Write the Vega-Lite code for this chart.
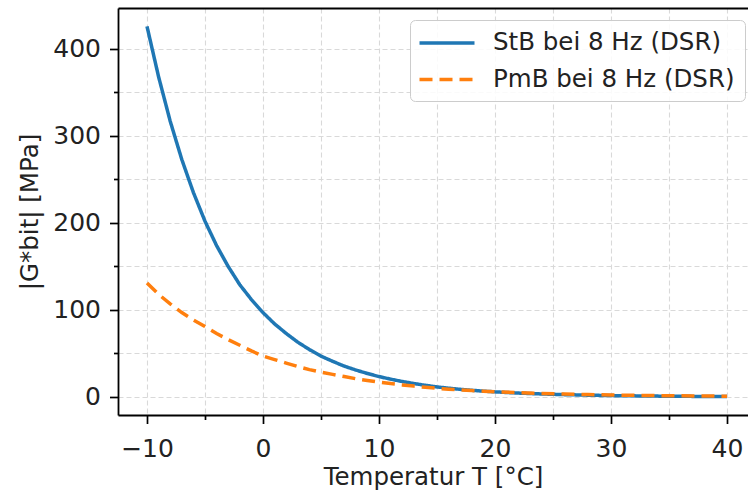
{
  "$schema": "https://vega.github.io/schema/vega-lite/v6.json",
  "width": 630,
  "height": 407,
  "autosize": {"type": "none"},
  "padding": {"left": 118, "top": 8, "right": 0, "bottom": 78},
  "background": "white",
  "config": {
    "view": {"stroke": null},
    "font": "DejaVu Sans",
    "axis": {
      "labelFont": "DejaVu Sans",
      "titleFont": "DejaVu Sans",
      "labelFontSize": 25,
      "titleFontSize": 24.5,
      "labelColor": "#222",
      "titleColor": "#222",
      "titleFontWeight": "normal",
      "domainColor": "#000",
      "domainWidth": 1.8,
      "tickColor": "#000",
      "tickWidth": 1.7,
      "gridColor": "#d9d9d9",
      "gridDash": [5, 3],
      "gridWidth": 1.1
    },
    "legend": {
      "labelFont": "DejaVu Sans",
      "labelFontSize": 24.5,
      "labelColor": "#222",
      "labelLimit": 400
    }
  },
  "data": {
    "values": [
      {"T": -10, "G": 426, "s": "StB bei 8 Hz (DSR)"},
      {"T": -9, "G": 368, "s": "StB bei 8 Hz (DSR)"},
      {"T": -8, "G": 317, "s": "StB bei 8 Hz (DSR)"},
      {"T": -7, "G": 273, "s": "StB bei 8 Hz (DSR)"},
      {"T": -6, "G": 235, "s": "StB bei 8 Hz (DSR)"},
      {"T": -5, "G": 202, "s": "StB bei 8 Hz (DSR)"},
      {"T": -4, "G": 174, "s": "StB bei 8 Hz (DSR)"},
      {"T": -3, "G": 150, "s": "StB bei 8 Hz (DSR)"},
      {"T": -2, "G": 129, "s": "StB bei 8 Hz (DSR)"},
      {"T": -1, "G": 112, "s": "StB bei 8 Hz (DSR)"},
      {"T": 0, "G": 97, "s": "StB bei 8 Hz (DSR)"},
      {"T": 1, "G": 84, "s": "StB bei 8 Hz (DSR)"},
      {"T": 2, "G": 73, "s": "StB bei 8 Hz (DSR)"},
      {"T": 3, "G": 63, "s": "StB bei 8 Hz (DSR)"},
      {"T": 4, "G": 54.5, "s": "StB bei 8 Hz (DSR)"},
      {"T": 5, "G": 47, "s": "StB bei 8 Hz (DSR)"},
      {"T": 6, "G": 41, "s": "StB bei 8 Hz (DSR)"},
      {"T": 7, "G": 35.5, "s": "StB bei 8 Hz (DSR)"},
      {"T": 8, "G": 31, "s": "StB bei 8 Hz (DSR)"},
      {"T": 9, "G": 27, "s": "StB bei 8 Hz (DSR)"},
      {"T": 10, "G": 23.5, "s": "StB bei 8 Hz (DSR)"},
      {"T": 11, "G": 20.5, "s": "StB bei 8 Hz (DSR)"},
      {"T": 12, "G": 17.8, "s": "StB bei 8 Hz (DSR)"},
      {"T": 13, "G": 15.5, "s": "StB bei 8 Hz (DSR)"},
      {"T": 14, "G": 13.4, "s": "StB bei 8 Hz (DSR)"},
      {"T": 15, "G": 11.6, "s": "StB bei 8 Hz (DSR)"},
      {"T": 16, "G": 10.1, "s": "StB bei 8 Hz (DSR)"},
      {"T": 17, "G": 8.8, "s": "StB bei 8 Hz (DSR)"},
      {"T": 18, "G": 7.7, "s": "StB bei 8 Hz (DSR)"},
      {"T": 19, "G": 6.7, "s": "StB bei 8 Hz (DSR)"},
      {"T": 20, "G": 5.9, "s": "StB bei 8 Hz (DSR)"},
      {"T": 22, "G": 4.5, "s": "StB bei 8 Hz (DSR)"},
      {"T": 24, "G": 3.5, "s": "StB bei 8 Hz (DSR)"},
      {"T": 26, "G": 2.7, "s": "StB bei 8 Hz (DSR)"},
      {"T": 28, "G": 2.1, "s": "StB bei 8 Hz (DSR)"},
      {"T": 30, "G": 1.6, "s": "StB bei 8 Hz (DSR)"},
      {"T": 32, "G": 1.3, "s": "StB bei 8 Hz (DSR)"},
      {"T": 34, "G": 1.0, "s": "StB bei 8 Hz (DSR)"},
      {"T": 36, "G": 0.8, "s": "StB bei 8 Hz (DSR)"},
      {"T": 38, "G": 0.6, "s": "StB bei 8 Hz (DSR)"},
      {"T": 40, "G": 0.5, "s": "StB bei 8 Hz (DSR)"},
      {"T": -10, "G": 131, "s": "PmB bei 8 Hz (DSR)"},
      {"T": -9, "G": 118, "s": "PmB bei 8 Hz (DSR)"},
      {"T": -8, "G": 107, "s": "PmB bei 8 Hz (DSR)"},
      {"T": -7, "G": 97, "s": "PmB bei 8 Hz (DSR)"},
      {"T": -6, "G": 88.5, "s": "PmB bei 8 Hz (DSR)"},
      {"T": -5, "G": 81, "s": "PmB bei 8 Hz (DSR)"},
      {"T": -4, "G": 73, "s": "PmB bei 8 Hz (DSR)"},
      {"T": -3, "G": 66, "s": "PmB bei 8 Hz (DSR)"},
      {"T": -2, "G": 59.5, "s": "PmB bei 8 Hz (DSR)"},
      {"T": -1, "G": 53, "s": "PmB bei 8 Hz (DSR)"},
      {"T": 0, "G": 47, "s": "PmB bei 8 Hz (DSR)"},
      {"T": 1, "G": 43, "s": "PmB bei 8 Hz (DSR)"},
      {"T": 2, "G": 39, "s": "PmB bei 8 Hz (DSR)"},
      {"T": 3, "G": 35, "s": "PmB bei 8 Hz (DSR)"},
      {"T": 4, "G": 31.5, "s": "PmB bei 8 Hz (DSR)"},
      {"T": 5, "G": 28.5, "s": "PmB bei 8 Hz (DSR)"},
      {"T": 6, "G": 26, "s": "PmB bei 8 Hz (DSR)"},
      {"T": 7, "G": 23.5, "s": "PmB bei 8 Hz (DSR)"},
      {"T": 8, "G": 21, "s": "PmB bei 8 Hz (DSR)"},
      {"T": 9, "G": 19, "s": "PmB bei 8 Hz (DSR)"},
      {"T": 10, "G": 17, "s": "PmB bei 8 Hz (DSR)"},
      {"T": 11, "G": 15.4, "s": "PmB bei 8 Hz (DSR)"},
      {"T": 12, "G": 13.9, "s": "PmB bei 8 Hz (DSR)"},
      {"T": 13, "G": 12.5, "s": "PmB bei 8 Hz (DSR)"},
      {"T": 14, "G": 11.2, "s": "PmB bei 8 Hz (DSR)"},
      {"T": 15, "G": 10, "s": "PmB bei 8 Hz (DSR)"},
      {"T": 16, "G": 9, "s": "PmB bei 8 Hz (DSR)"},
      {"T": 17, "G": 8.2, "s": "PmB bei 8 Hz (DSR)"},
      {"T": 18, "G": 7.4, "s": "PmB bei 8 Hz (DSR)"},
      {"T": 19, "G": 6.7, "s": "PmB bei 8 Hz (DSR)"},
      {"T": 20, "G": 6, "s": "PmB bei 8 Hz (DSR)"},
      {"T": 22, "G": 5, "s": "PmB bei 8 Hz (DSR)"},
      {"T": 24, "G": 4.1, "s": "PmB bei 8 Hz (DSR)"},
      {"T": 26, "G": 3.4, "s": "PmB bei 8 Hz (DSR)"},
      {"T": 28, "G": 2.8, "s": "PmB bei 8 Hz (DSR)"},
      {"T": 30, "G": 2.3, "s": "PmB bei 8 Hz (DSR)"},
      {"T": 32, "G": 1.9, "s": "PmB bei 8 Hz (DSR)"},
      {"T": 34, "G": 1.6, "s": "PmB bei 8 Hz (DSR)"},
      {"T": 36, "G": 1.3, "s": "PmB bei 8 Hz (DSR)"},
      {"T": 38, "G": 1.1, "s": "PmB bei 8 Hz (DSR)"},
      {"T": 40, "G": 0.9, "s": "PmB bei 8 Hz (DSR)"}
    ]
  },
  "resolve": {"axis": {"x": "independent"}},
  "layer": [
    {
      "transform": [{"filter": "datum.s === 'StB bei 8 Hz (DSR)'"}],
      "mark": {"type": "line", "strokeWidth": 3.5, "clip": true},
      "encoding": {
        "x": {
          "field": "T", "type": "quantitative",
          "scale": {"domain": [-12.5, 41.81], "nice": false, "zero": false},
          "axis": {
            "orient": "bottom",
            "title": "Temperatur T [°C]",
            "values": [-10, -5, 0, 5, 10, 15, 20, 25, 30, 35, 40],
            "labelExpr": "datum.value % 10 === 0 ? datum.label : ''",
            "tickSize": {"condition": {"test": "datum.value % 10 !== 0", "value": 4.5}, "value": 8.5},
            "labelPadding": 13,
            "titlePadding": 4,
            "grid": true,
            "labelFlush": false
          }
        },
        "y": {
          "field": "G", "type": "quantitative",
          "scale": {"domain": [-20.7, 447.1], "nice": false, "zero": false},
          "axis": {
            "orient": "left",
            "title": "|G*bit| [MPa]",
            "values": [0, 50, 100, 150, 200, 250, 300, 350, 400],
            "labelExpr": "datum.value % 100 === 0 ? datum.label : ''",
            "tickSize": {"condition": {"test": "datum.value % 100 !== 0", "value": 4.5}, "value": 8.5},
            "labelPadding": 9,
            "titlePadding": 10,
            "grid": true,
            "labelFlush": false
          }
        },
        "color": {
          "field": "s", "type": "nominal",
          "scale": {"domain": ["StB bei 8 Hz (DSR)", "PmB bei 8 Hz (DSR)"], "range": ["#1f77b4", "#ff7f0e"]},
          "legend": {
            "title": null, "orient": "none", "legendX": 292, "legendY": 12,
            "symbolType": "M-2.5,0H2.5", "symbolSize": 484, "symbolStrokeWidth": 3.5,
            "symbolOffset": 14, "labelOffset": 33, "rowPadding": 11.5, "padding": 10,
            "labelExpr": "datum.label + '\u2002\u2009'",
            "fillColor": "rgba(255,255,255,0.85)", "strokeColor": "#cccccc", "cornerRadius": 5
          }
        },
        "strokeDash": {
          "field": "s", "type": "nominal",
          "scale": {"domain": ["StB bei 8 Hz (DSR)", "PmB bei 8 Hz (DSR)"], "range": [[1, 0], [13, 7]]},
          "legend": {
            "title": null, "orient": "none", "legendX": 292, "legendY": 12,
            "symbolType": "M-2.5,0H2.5", "symbolSize": 484, "symbolStrokeWidth": 3.5,
            "symbolOffset": 14, "labelOffset": 33, "rowPadding": 11.5, "padding": 10,
            "labelExpr": "datum.label + '\u2002\u2009'",
            "fillColor": "rgba(255,255,255,0.85)", "strokeColor": "#cccccc", "cornerRadius": 5
          }
        }
      }
    },
    {
      "transform": [{"filter": "datum.s === 'PmB bei 8 Hz (DSR)'"}],
      "mark": {"type": "line", "strokeWidth": 3.5, "clip": true},
      "encoding": {
        "x": {
          "field": "T", "type": "quantitative",
          "scale": {"domain": [-12.5, 41.81], "nice": false, "zero": false},
          "axis": {"orient": "top", "title": null, "labels": false, "ticks": false, "grid": false, "domain": true}
        },
        "y": {"field": "G", "type": "quantitative"},
        "color": {"field": "s", "type": "nominal"},
        "strokeDash": {"field": "s", "type": "nominal"}
      }
    }
  ]
}
